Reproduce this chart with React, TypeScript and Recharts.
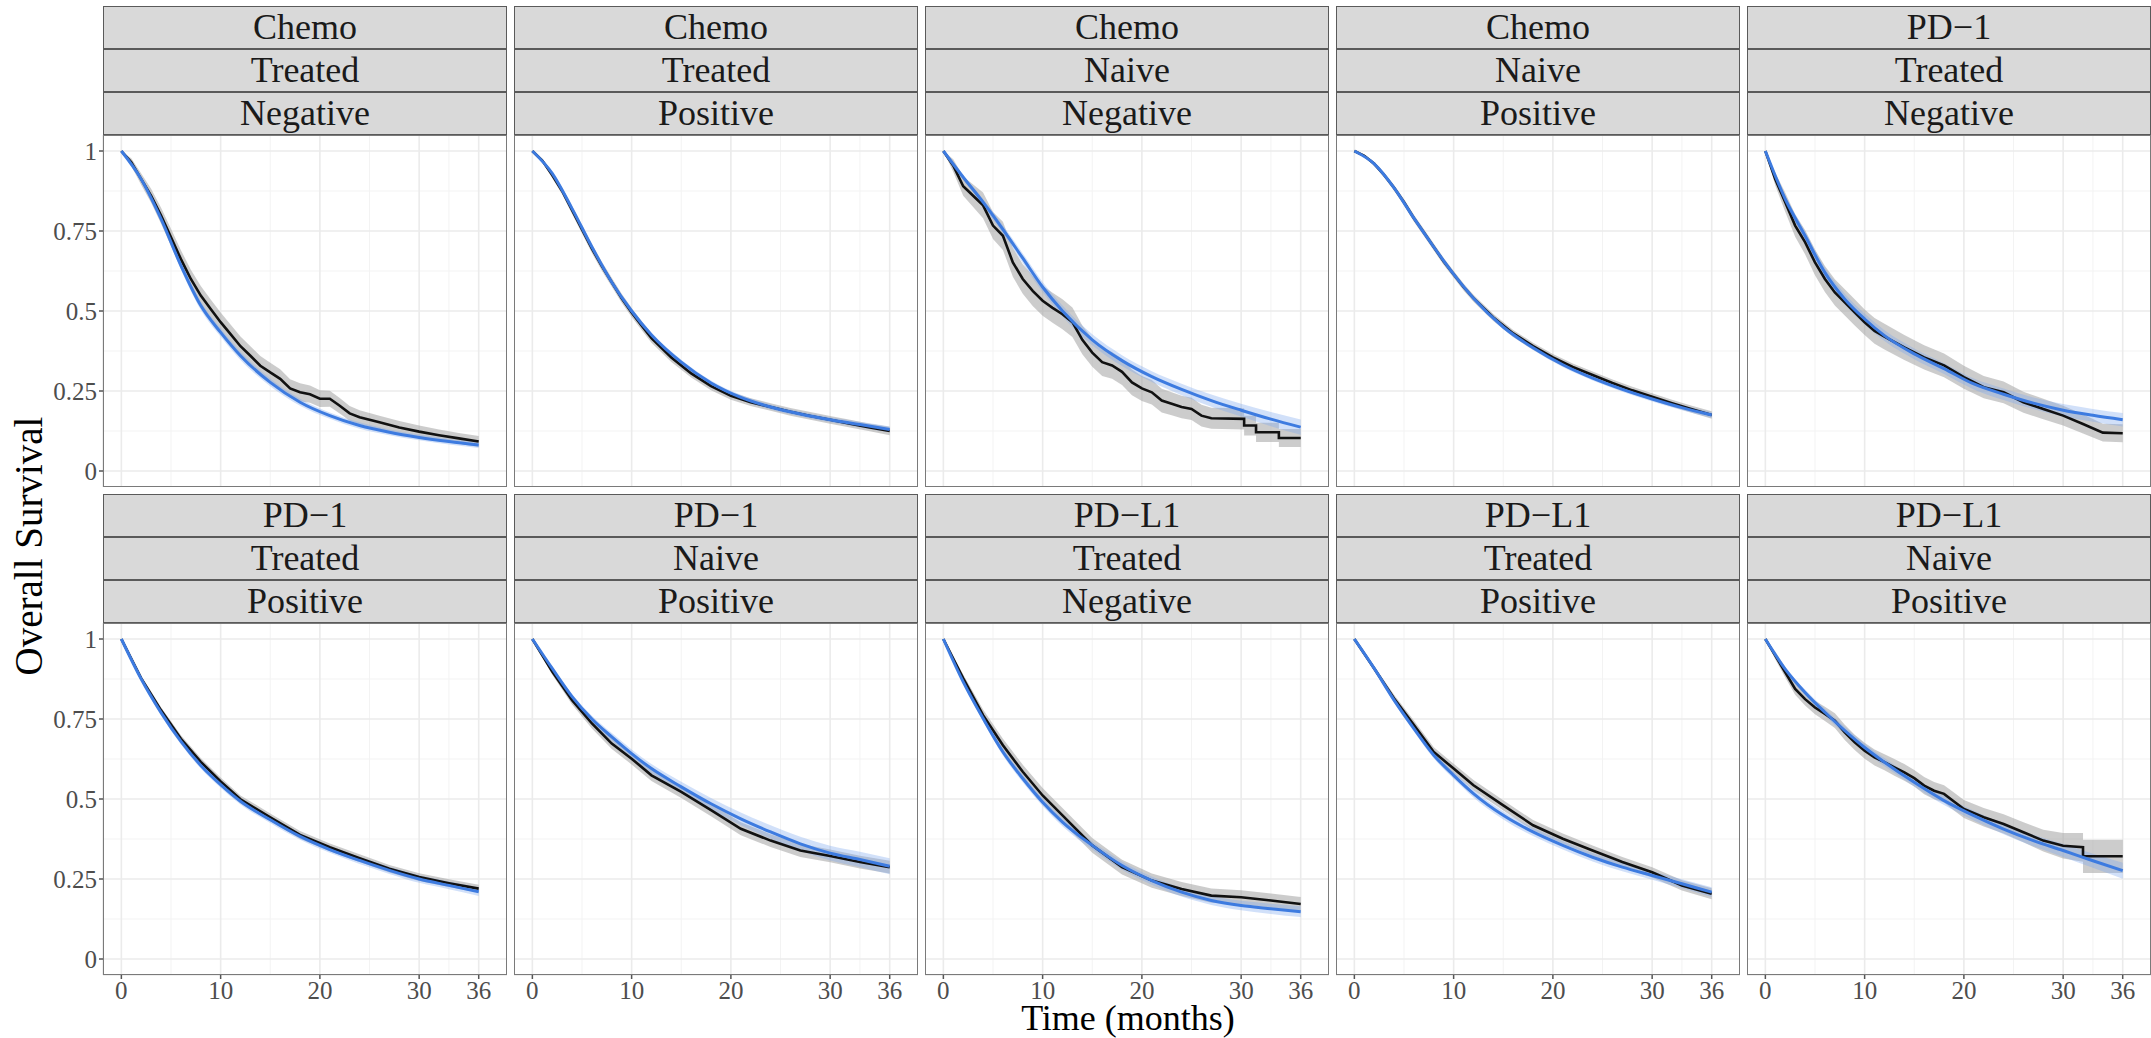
import React from "react";
import { ComposedChart, Line, Area, XAxis, YAxis, CartesianGrid } from "recharts";

const FONT = '"Liberation Serif", "DejaVu Serif", serif';

// strip labels, one entry per panel (row by row)
const TREATMENT = ["Chemo", "Chemo", "Chemo", "Chemo", "PD\u22121", "PD\u22121", "PD\u22121", "PD\u2212L1", "PD\u2212L1", "PD\u2212L1"];
const PRIOR = ["Treated", "Treated", "Naive", "Naive", "Treated", "Treated", "Naive", "Treated", "Treated", "Naive"];
const STATUS = ["Negative", "Positive", "Negative", "Positive", "Negative", "Positive", "Positive", "Negative", "Positive", "Positive"];

const X_TICKS = [0, 10, 20, 30, 36];
const X_MINOR = [5, 15, 25, 33];
const Y_TICKS = [0, 0.25, 0.5, 0.75, 1];
const Y_MINOR = [0.125, 0.375, 0.625, 0.875];

// time grids (months)
const FIT_T = [0, 2, 4, 6, 8, 10, 12, 15, 18, 21, 24, 27, 30, 33, 36];
const G25 = [0, 1, 2, 3, 4, 5, 6, 7, 8, 9, 10, 11, 12, 14, 16, 18, 20, 22, 24, 26, 28, 30, 32, 34, 36];
const T_P1 = [0, 1, 2, 3, 4, 5, 6, 7, 8, 9, 10, 11, 12, 13, 14, 15, 16, 17, 18, 19, 20, 21, 22, 23, 24, 26, 28, 30, 32, 34, 36];
const T_P3 = [0, 1, 2, 3, 4, 5, 6, 7, 8, 9, 10, 11, 12, 13, 14, 15, 16, 17, 18, 19, 20, 21, 22, 23, 24, 25, 26, 27, 30.3, 30.3, 31.5, 31.5, 33.8, 33.8, 36];
const T_P10 = [0, 1, 2, 3, 4, 5, 6, 7, 8, 9, 10, 11, 12, 13, 14, 15, 16, 17, 18, 19, 20, 22, 24, 26, 28, 30, 32, 32, 36];

const KM_TIMES = [T_P1, G25, T_P3, G25, G25, FIT_T, FIT_T, FIT_T, FIT_T, T_P10];

// Kaplan-Meier estimates
const KM_SURV = [
  [1.0, 0.965, 0.912, 0.86, 0.798, 0.73, 0.662, 0.6, 0.548, 0.506, 0.465, 0.428, 0.39, 0.36, 0.329, 0.308, 0.288, 0.258, 0.246, 0.24, 0.226, 0.226, 0.204, 0.18, 0.168, 0.152, 0.136, 0.123, 0.112, 0.102, 0.092],
  [1.0, 0.97, 0.925, 0.875, 0.815, 0.755, 0.695, 0.64, 0.59, 0.54, 0.495, 0.455, 0.415, 0.355, 0.305, 0.265, 0.235, 0.215, 0.2, 0.185, 0.172, 0.16, 0.148, 0.136, 0.125],
  [1.0, 0.954, 0.89, 0.86, 0.83, 0.767, 0.735, 0.652, 0.6, 0.563, 0.532, 0.51, 0.49, 0.465, 0.41, 0.37, 0.34, 0.33, 0.31, 0.277, 0.258, 0.246, 0.22, 0.21, 0.2, 0.194, 0.173, 0.165, 0.163, 0.142, 0.142, 0.121, 0.121, 0.103, 0.103],
  [1.0, 0.985, 0.96, 0.925, 0.885, 0.84, 0.79, 0.745, 0.7, 0.655, 0.615, 0.575, 0.54, 0.48, 0.43, 0.39, 0.355, 0.325, 0.3, 0.275, 0.252, 0.232, 0.212, 0.193, 0.175],
  [1.0, 0.912, 0.84, 0.767, 0.715, 0.652, 0.6, 0.558, 0.527, 0.496, 0.465, 0.438, 0.42, 0.386, 0.355, 0.33, 0.293, 0.262, 0.246, 0.215, 0.194, 0.173, 0.147, 0.12, 0.118],
  [1.0, 0.877, 0.777, 0.688, 0.616, 0.555, 0.499, 0.443, 0.388, 0.349, 0.315, 0.282, 0.256, 0.237, 0.22],
  [1.0, 0.898, 0.809, 0.736, 0.673, 0.626, 0.574, 0.522, 0.465, 0.407, 0.37, 0.339, 0.322, 0.303, 0.287],
  [1.0, 0.877, 0.762, 0.668, 0.585, 0.511, 0.449, 0.355, 0.287, 0.245, 0.219, 0.198, 0.193, 0.183, 0.172],
  [1.0, 0.908, 0.814, 0.731, 0.647, 0.595, 0.543, 0.48, 0.418, 0.376, 0.339, 0.303, 0.271, 0.23, 0.204],
  [1.0, 0.948, 0.896, 0.844, 0.812, 0.786, 0.766, 0.745, 0.708, 0.677, 0.651, 0.63, 0.615, 0.599, 0.583, 0.565, 0.542, 0.526, 0.516, 0.492, 0.469, 0.443, 0.422, 0.396, 0.37, 0.354, 0.349, 0.321, 0.321],
];

// half width of the KM confidence band
const KM_HALF = [
  [0, 0.012, 0.018, 0.022, 0.025, 0.027, 0.028, 0.029, 0.03, 0.03, 0.03, 0.03, 0.03, 0.03, 0.03, 0.03, 0.03, 0.029, 0.028, 0.027, 0.026, 0.025, 0.024, 0.023, 0.022, 0.021, 0.02, 0.019, 0.018, 0.017, 0.017],
  [0, 0.006, 0.009, 0.011, 0.012, 0.013, 0.014, 0.014, 0.014, 0.014, 0.014, 0.014, 0.014, 0.014, 0.013, 0.013, 0.012, 0.012, 0.012, 0.012, 0.012, 0.012, 0.012, 0.012, 0.013],
  [0, 0.02, 0.03, 0.035, 0.04, 0.042, 0.044, 0.045, 0.046, 0.047, 0.047, 0.047, 0.047, 0.046, 0.045, 0.044, 0.043, 0.042, 0.041, 0.04, 0.039, 0.038, 0.037, 0.036, 0.035, 0.035, 0.034, 0.033, 0.033, 0.031, 0.031, 0.03, 0.03, 0.028, 0.028],
  [0, 0.004, 0.006, 0.008, 0.009, 0.01, 0.011, 0.011, 0.011, 0.011, 0.011, 0.011, 0.011, 0.011, 0.011, 0.011, 0.011, 0.011, 0.011, 0.011, 0.011, 0.011, 0.011, 0.011, 0.012],
  [0, 0.02, 0.03, 0.035, 0.038, 0.04, 0.041, 0.041, 0.041, 0.041, 0.04, 0.04, 0.04, 0.039, 0.038, 0.037, 0.036, 0.035, 0.034, 0.033, 0.032, 0.031, 0.03, 0.028, 0.028],
  [0, 0.008, 0.01, 0.011, 0.012, 0.012, 0.012, 0.012, 0.012, 0.012, 0.012, 0.012, 0.012, 0.012, 0.012],
  [0, 0.01, 0.014, 0.016, 0.017, 0.018, 0.018, 0.019, 0.019, 0.02, 0.02, 0.02, 0.02, 0.02, 0.02],
  [0, 0.012, 0.018, 0.02, 0.022, 0.023, 0.023, 0.023, 0.023, 0.022, 0.022, 0.022, 0.022, 0.022, 0.022],
  [0, 0.008, 0.012, 0.014, 0.015, 0.015, 0.016, 0.016, 0.016, 0.016, 0.016, 0.016, 0.016, 0.016, 0.017],
  [0, 0.012, 0.016, 0.018, 0.02, 0.021, 0.022, 0.023, 0.024, 0.024, 0.025, 0.025, 0.025, 0.026, 0.026, 0.026, 0.027, 0.027, 0.027, 0.028, 0.028, 0.029, 0.03, 0.031, 0.034, 0.04, 0.045, 0.052, 0.052],
];

// parametric model fit (blue)
const FIT_SURV = [
  [1.0, 0.912, 0.788, 0.642, 0.517, 0.433, 0.36, 0.277, 0.215, 0.173, 0.142, 0.121, 0.105, 0.092, 0.081],
  [1.0, 0.93, 0.82, 0.7, 0.59, 0.5, 0.425, 0.34, 0.275, 0.23, 0.2, 0.178, 0.16, 0.145, 0.13],
  [1.0, 0.918, 0.84, 0.755, 0.665, 0.575, 0.5, 0.41, 0.345, 0.295, 0.255, 0.22, 0.19, 0.162, 0.137],
  [1.0, 0.96, 0.885, 0.79, 0.7, 0.615, 0.54, 0.45, 0.385, 0.332, 0.29, 0.255, 0.225, 0.198, 0.175],
  [1.0, 0.85, 0.735, 0.62, 0.537, 0.475, 0.423, 0.366, 0.32, 0.272, 0.24, 0.212, 0.19, 0.174, 0.16],
  [1.0, 0.875, 0.77, 0.68, 0.605, 0.545, 0.493, 0.435, 0.383, 0.342, 0.308, 0.277, 0.25, 0.23, 0.21],
  [1.0, 0.908, 0.82, 0.75, 0.694, 0.642, 0.595, 0.538, 0.485, 0.438, 0.397, 0.36, 0.331, 0.311, 0.29],
  [1.0, 0.866, 0.752, 0.647, 0.564, 0.49, 0.428, 0.355, 0.292, 0.245, 0.209, 0.183, 0.167, 0.157, 0.148],
  [1.0, 0.908, 0.809, 0.72, 0.637, 0.574, 0.517, 0.449, 0.397, 0.355, 0.318, 0.287, 0.261, 0.235, 0.209],
  [1.0, 0.906, 0.833, 0.771, 0.714, 0.661, 0.615, 0.552, 0.495, 0.448, 0.406, 0.37, 0.339, 0.307, 0.276],
];

const FIT_HALF = [
  [0, 0.006, 0.01, 0.012, 0.013, 0.013, 0.013, 0.012, 0.011, 0.01, 0.01, 0.009, 0.009, 0.009, 0.009],
  [0, 0.005, 0.007, 0.008, 0.008, 0.008, 0.008, 0.008, 0.008, 0.008, 0.008, 0.008, 0.008, 0.009, 0.009],
  [0, 0.006, 0.01, 0.013, 0.015, 0.016, 0.017, 0.017, 0.017, 0.017, 0.018, 0.019, 0.02, 0.022, 0.024],
  [0, 0.003, 0.005, 0.006, 0.007, 0.007, 0.007, 0.007, 0.007, 0.007, 0.007, 0.007, 0.008, 0.008, 0.009],
  [0, 0.01, 0.014, 0.016, 0.017, 0.017, 0.017, 0.017, 0.017, 0.017, 0.018, 0.018, 0.019, 0.02, 0.021],
  [0, 0.006, 0.008, 0.009, 0.01, 0.01, 0.01, 0.01, 0.01, 0.01, 0.011, 0.011, 0.012, 0.012, 0.013],
  [0, 0.005, 0.008, 0.01, 0.012, 0.013, 0.014, 0.016, 0.018, 0.02, 0.021, 0.022, 0.023, 0.024, 0.025],
  [0, 0.006, 0.009, 0.011, 0.012, 0.012, 0.013, 0.013, 0.013, 0.013, 0.014, 0.014, 0.015, 0.016, 0.017],
  [0, 0.005, 0.008, 0.009, 0.01, 0.011, 0.012, 0.013, 0.013, 0.013, 0.013, 0.013, 0.013, 0.014, 0.015],
  [0, 0.006, 0.009, 0.011, 0.012, 0.012, 0.013, 0.013, 0.014, 0.015, 0.016, 0.018, 0.02, 0.022, 0.025],
];

const PANEL_W = 404;
const PLOT_H = 352;
const STRIP_H = 43;
const GAP = 7;
const LEFT0 = 103;
const ROW_TOP = [6, 494];
const Y_AXIS_W = 100;
const X_AXIS_H = 42;

// serif tick labels, drawn at the position Recharts computes
const XTick = (props: any) => (
  <text
    x={props.x}
    y={props.y}
    dy="0.71em"
    textAnchor="middle"
    fill="#4d4d4d"
    fontSize={25}
    fontFamily={FONT}
  >
    {props.payload.value}
  </text>
);

const YTick = (props: any) => (
  <text
    x={props.x}
    y={props.y}
    dy="0.355em"
    textAnchor="end"
    fill="#4d4d4d"
    fontSize={25}
    fontFamily={FONT}
  >
    {props.payload.value}
  </text>
);

function Panel({ i }: { i: number }) {
  const row = i < 5 ? 0 : 1;
  const col = i % 5;
  const left = LEFT0 + col * (PANEL_W + GAP);
  const stripTop = ROW_TOP[row];
  const plotTop = stripTop + 3 * STRIP_H;
  const showY = col === 0;
  const showX = row === 1;

  const km = KM_TIMES[i].map((t, k) => ({
    t,
    s: KM_SURV[i][k],
    ci: [KM_SURV[i][k] - KM_HALF[i][k], KM_SURV[i][k] + KM_HALF[i][k]],
  }));
  const fit = FIT_T.map((t, k) => ({
    t,
    s: FIT_SURV[i][k],
    ci: [FIT_SURV[i][k] - FIT_HALF[i][k], FIT_SURV[i][k] + FIT_HALF[i][k]],
  }));

  const labels = [TREATMENT[i], PRIOR[i], STATUS[i]];

  return (
    <>
      {labels.map((lab, k) => (
        <div
          key={k}
          style={{
            position: "absolute",
            left,
            top: stripTop + k * STRIP_H,
            width: PANEL_W,
            height: STRIP_H,
            boxSizing: "border-box",
            background: "#d9d9d9",
            border: "1.5px solid #5a5a5a",
            textAlign: "center",
            lineHeight: `${STRIP_H - 3}px`,
            fontSize: 36,
            color: "#1a1a1a",
            fontFamily: FONT,
          }}
        >
          {lab}
        </div>
      ))}
      <div
        style={{
          position: "absolute",
          left: left - (showY ? Y_AXIS_W : 0),
          top: plotTop,
        }}
      >
        <ComposedChart
          width={PANEL_W + (showY ? Y_AXIS_W : 0)}
          height={PLOT_H + (showX ? X_AXIS_H : 0)}
          margin={{ top: 0, right: 0, bottom: 0, left: 0 }}
        >
          <XAxis
            xAxisId="minor"
            type="number"
            dataKey="t"
            domain={[-1.85, 38.85]}
            ticks={X_MINOR}
            allowDataOverflow
            hide
          />
          <YAxis
            yAxisId="minor"
            type="number"
            domain={[-0.05, 1.05]}
            ticks={Y_MINOR}
            allowDataOverflow
            hide
          />
          <XAxis
            type="number"
            dataKey="t"
            domain={[-1.85, 38.85]}
            ticks={X_TICKS}
            allowDataOverflow
            hide={!showX}
            height={X_AXIS_H}
            axisLine={false}
            tickSize={4}
            tickLine={{ stroke: "#555", strokeWidth: 1.5 }}
            tick={<XTick />}
            interval={0}
          />
          <YAxis
            type="number"
            domain={[-0.05, 1.05]}
            ticks={Y_TICKS}
            allowDataOverflow
            hide={!showY}
            width={Y_AXIS_W}
            axisLine={false}
            tickSize={4}
            tickLine={{ stroke: "#555", strokeWidth: 1.5 }}
            tick={<YTick />}
            interval={0}
          />
          <CartesianGrid xAxisId="minor" yAxisId="minor" stroke="#f3f3f3" strokeWidth={1} />
          <CartesianGrid stroke="#ebebeb" strokeWidth={1.6} />
          <Area
            data={km}
            dataKey="ci"
            type="linear"
            stroke="none"
            fill="#9a9a9a"
            fillOpacity={0.5}
            isAnimationActive={false}
            dot={false}
            activeDot={false}
          />
          <Area
            data={fit}
            dataKey="ci"
            type="monotone"
            stroke="none"
            fill="#7aa6ee"
            fillOpacity={0.35}
            isAnimationActive={false}
            dot={false}
            activeDot={false}
          />
          <Line
            data={km}
            dataKey="s"
            type="linear"
            stroke="#111111"
            strokeWidth={2.6}
            dot={false}
            activeDot={false}
            isAnimationActive={false}
          />
          <Line
            data={fit}
            dataKey="s"
            type="monotone"
            stroke="#3d7be0"
            strokeWidth={3}
            dot={false}
            activeDot={false}
            isAnimationActive={false}
          />
        </ComposedChart>
      </div>
      <div
        style={{
          position: "absolute",
          left,
          top: plotTop,
          width: PANEL_W,
          height: PLOT_H,
          boxSizing: "border-box",
          border: "1.5px solid #7a7a7a",
          pointerEvents: "none",
        }}
      />
    </>
  );
}

export default function App() {
  return (
    <div
      style={{
        position: "absolute",
        left: 0,
        top: 0,
        width: 2151,
        height: 1038,
        background: "#ffffff",
        overflow: "hidden",
        fontFamily: FONT,
      }}
    >
      {TREATMENT.map((_, i) => (
        <Panel key={i} i={i} />
      ))}
      <div
        style={{
          position: "absolute",
          left: 828,
          top: 1001,
          width: 600,
          height: 34,
          textAlign: "center",
          fontSize: 36,
          lineHeight: "34px",
          color: "#000",
        }}
      >
        Time (months)
      </div>
      <div
        style={{
          position: "absolute",
          left: 29 - 200,
          top: 546 - 22,
          width: 400,
          height: 44,
          lineHeight: "44px",
          textAlign: "center",
          fontSize: 39,
          color: "#000",
          transform: "rotate(-90deg)",
        }}
      >
        Overall Survival
      </div>
    </div>
  );
}
